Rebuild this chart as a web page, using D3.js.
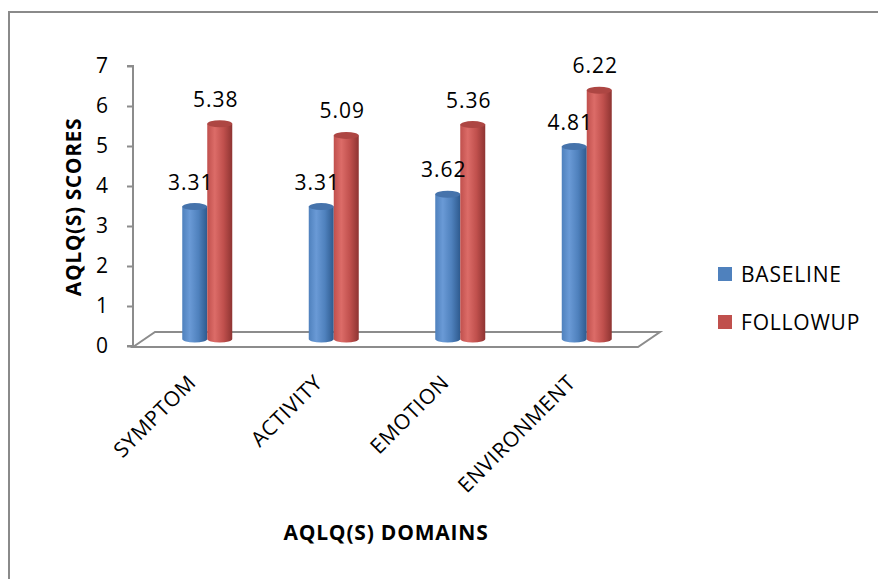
<!DOCTYPE html>
<html>
<head>
<meta charset="utf-8">
<script src="https://cdn.jsdelivr.net/npm/d3@7"></script>
<style>
  html, body { margin: 0; padding: 0; background: #fff; }
  svg { display: block; font-family: "Open Sans", "Noto Sans", sans-serif; }
</style>
</head>
<body>
<svg id="chart" width="878" height="579"></svg>
<script>
// AQLQ(S) domain scores, baseline vs follow-up
const categories = ["SYMPTOM", "ACTIVITY", "EMOTION", "ENVIRONMENT"];
const seriesNames = ["BASELINE", "FOLLOWUP"];
const baseline = [3.31, 3.31, 3.62, 4.81];
const followup = [5.38, 5.09, 5.36, 6.22];
const yTicks = [0, 1, 2, 3, 4, 5, 6, 7];
const seriesColors = {
  BASELINE: { light: "#6a9ad6", base: "#4f81bd", dark: "#2e5a8e", top: "#4673ab" },
  FOLLOWUP: { light: "#dc6c68", base: "#c0504d", dark: "#8e3432", top: "#ad4643" }
};

const seriesValues = { BASELINE: baseline, FOLLOWUP: followup };
const svg = d3.select("#chart");

// outer frame (top and left edges visible)
svg.append("path")
  .attr("d", "M9,600 L9,12 L900,12")
  .attr("fill", "none").attr("stroke", "#8a8a8a").attr("stroke-width", 2);

const axisX = 133;
const y = d3.scaleLinear().domain([0, 7]).range([346, 66]);
const x0 = d3.scaleBand().domain(categories).range([144, 650]);
const barW = 25;
const x1 = d3.scaleBand().domain(seriesNames)
  .range([x0.bandwidth() / 2 - barW, x0.bandwidth() / 2 + barW]);

// depth of the 3D floor
const depthX = 22, depthY = 15;
const barShiftY = -7; // bars stand mid-depth on the floor

// floor
const floorG = svg.append("g").attr("fill", "none").attr("stroke", "#8c8c8c").attr("stroke-width", 2);
const fy = y(0) + 1;
const fRight = 638;
floorG.append("path")
  .attr("d", `M${axisX},${fy} L${axisX + depthX},${fy - depthY} L${fRight + depthX},${fy - depthY} L${fRight},${fy} Z`);

// y axis
const yAxis = d3.axisLeft(y).tickValues(yTicks).tickSize(6).tickPadding(19).tickFormat(d3.format("d"));
const ag = svg.append("g").attr("transform", `translate(${axisX},0)`).call(yAxis);
ag.select(".domain").attr("stroke", "#8c8c8c").attr("stroke-width", 2).attr("d", `M-6,${y(7)}H0V${y(0)}H-6`);
ag.selectAll(".tick line").attr("stroke", "#8c8c8c").attr("stroke-width", 2);
ag.selectAll(".tick text").attr("font-size", 21).attr("fill", "#000")
  .attr("font-family", "'Open Sans', sans-serif");

// gradients for the cylinders
const defs = svg.append("defs");
seriesNames.forEach(s => {
  const c = seriesColors[s];
  const g = defs.append("linearGradient").attr("id", "grad-" + s)
    .attr("x1", "0%").attr("x2", "100%").attr("y1", "0%").attr("y2", "0%");
  g.append("stop").attr("offset", "0%").attr("stop-color", c.base);
  g.append("stop").attr("offset", "30%").attr("stop-color", c.light);
  g.append("stop").attr("offset", "65%").attr("stop-color", c.base);
  g.append("stop").attr("offset", "100%").attr("stop-color", c.dark);
});

// cylinders
const ry = 3.5;
const bars = [];
categories.forEach((cat, i) => {
  seriesNames.forEach(s => {
    bars.push({ cat, s, v: seriesValues[s][i] });
  });
});

const barG = svg.append("g");
bars.forEach(b => {
  const left = x0(b.cat) + x1(b.s);
  const right = left + barW;
  const rx = barW / 2;
  const topY = y(b.v) + barShiftY;
  const botY = y(0) + barShiftY;
  barG.append("path")
    .attr("d", `M${left},${topY} L${left},${botY} A${rx},${ry} 0 0 0 ${right},${botY} L${right},${topY} Z`)
    .attr("fill", `url(#grad-${b.s})`);
  barG.append("ellipse")
    .attr("cx", left + rx).attr("cy", topY).attr("rx", rx).attr("ry", ry)
    .attr("fill", seriesColors[b.s].top);
});

// value labels
svg.append("g").selectAll("text").data(bars).join("text")
  .attr("x", d => x0(d.cat) + x1(d.s) + barW / 2 - 4)
  .attr("y", d => y(d.v) + barShiftY - 17)
  .attr("text-anchor", "middle")
  .attr("font-size", 21).attr("letter-spacing", 1).attr("fill", "#000")
  .text(d => d.v.toFixed(2));

// category labels
svg.append("g").selectAll("text").data(categories).join("text")
  .attr("transform", d => `translate(${x0(d) + x0.bandwidth() / 2 - 10},${384}) rotate(-45)`)
  .attr("text-anchor", "end")
  .attr("font-size", 21).attr("letter-spacing", 0.6).attr("fill", "#000")
  .text(d => d);

// axis titles
svg.append("text")
  .attr("transform", `translate(81,${207}) rotate(-90)`)
  .attr("text-anchor", "middle").attr("font-weight", "bold").attr("font-size", 21)
  .attr("letter-spacing", 0.6)
  .text("AQLQ(S) SCORES");
svg.append("text")
  .attr("x", 386).attr("y", 540)
  .attr("text-anchor", "middle").attr("font-weight", "bold").attr("font-size", 21)
  .attr("letter-spacing", 0.8)
  .text("AQLQ(S) DOMAINS");

// legend
const lg = svg.append("g").attr("transform", "translate(718,267)");
seriesNames.forEach((s, i) => {
  const row = lg.append("g").attr("transform", `translate(0,${i * 48})`);
  row.append("rect").attr("width", 14).attr("height", 14).attr("fill", seriesColors[s].base);
  row.append("text").attr("x", 23).attr("y", 15).attr("font-size", 21)
    .attr("letter-spacing", 0.8).attr("fill", "#000").text(s);
});
</script>
</body>
</html>
